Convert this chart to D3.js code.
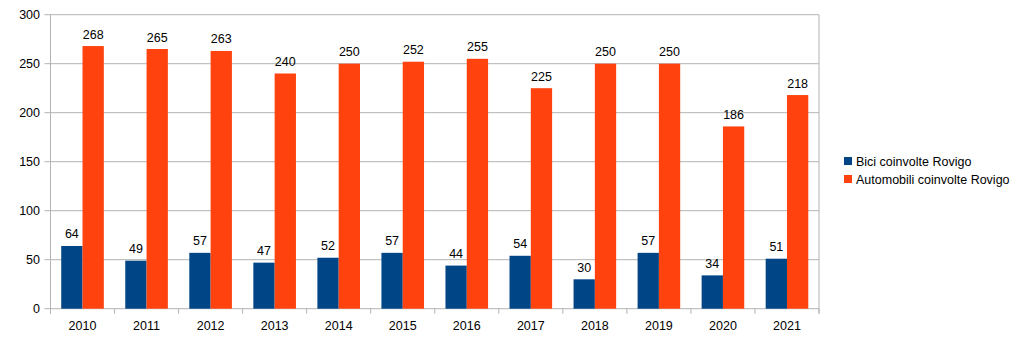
<!DOCTYPE html>
<html><head><meta charset="utf-8">
<script src="https://cdn.jsdelivr.net/npm/d3@7/dist/d3.min.js"></script>
<style>body{margin:0;background:#fff;} text{font-family:"Liberation Sans",Arial,sans-serif;}</style>
</head><body>
<svg id="c" width="1023" height="341"></svg>
<script>
const years = ["2010","2011","2012","2013","2014","2015","2016","2017","2018","2019","2020","2021"];
const bici = [64,49,57,47,52,57,44,54,30,57,34,51];
const auto = [268,265,263,240,250,252,255,225,250,250,186,218];
const seriesNames = ["Bici coinvolte Rovigo","Automobili coinvolte Rovigo"];
const colors = ["#004586","#ff420e"];
const yTicks = [0,50,100,150,200,250,300];

const svg = d3.select("#c");
const L = 50.5, R = 819, T = 14.7, B = 308.7;
const FS = 12.5;
const x = d3.scaleBand().domain(years).range([L,R]).paddingInner(0).paddingOuter(0);
const y = d3.scaleLinear().domain([0,300]).range([B,T]);
const bw = 21.3;

svg.append("g").selectAll("line").data(yTicks).join("line")
  .attr("x1",L-6).attr("x2",R).attr("y1",d=>y(d)).attr("y2",d=>y(d))
  .attr("stroke","#b3b3b3").attr("stroke-width",1);
svg.append("line").attr("x1",L).attr("x2",L).attr("y1",T).attr("y2",B+5).attr("stroke","#b3b3b3");
svg.append("g").selectAll("line").data(d3.range(years.length+1)).join("line")
  .attr("x1",i=>L+i*x.bandwidth()).attr("x2",i=>L+i*x.bandwidth())
  .attr("y1",B).attr("y2",B+5).attr("stroke","#b3b3b3");
svg.append("line").attr("x1",R).attr("x2",R).attr("y1",T).attr("y2",B+5).attr("stroke","#b3b3b3");

svg.append("g").selectAll("text").data(yTicks).join("text")
  .attr("x",40).attr("y",d=>y(d)).attr("dy","0.35em").attr("text-anchor","end")
  .attr("font-size",FS).attr("fill","#000").text(d=>d);
svg.append("g").selectAll("text").data(years).join("text")
  .attr("x",d=>x(d)+x.bandwidth()/2).attr("y",330).attr("text-anchor","middle")
  .attr("font-size",FS).attr("fill","#000").text(d=>d);

const series = [bici, auto];
series.forEach((vals,si)=>{
  const g = svg.append("g");
  g.selectAll("rect").data(vals).join("rect")
    .attr("x",(d,i)=>x(years[i])+x.bandwidth()/2 - bw + si*bw)
    .attr("y",d=>y(d)).attr("width",bw).attr("height",d=>B-y(d))
    .attr("fill",colors[si]);
  g.selectAll("text").data(vals).join("text")
    .attr("x",(d,i)=>x(years[i])+x.bandwidth()/2 - bw/2 + si*bw)
    .attr("y",d=>y(d)-7.5).attr("text-anchor","middle")
    .attr("font-size",FS).attr("fill","#000").text(d=>d);
});

const lg = svg.append("g");
seriesNames.forEach((n,i)=>{
  lg.append("rect").attr("x",844).attr("y",157+i*18).attr("width",8).attr("height",8).attr("fill",colors[i]);
  lg.append("text").attr("x",856).attr("y",165.5+i*18).attr("font-size",FS).attr("fill","#000").text(n);
});
</script>
</body></html>
